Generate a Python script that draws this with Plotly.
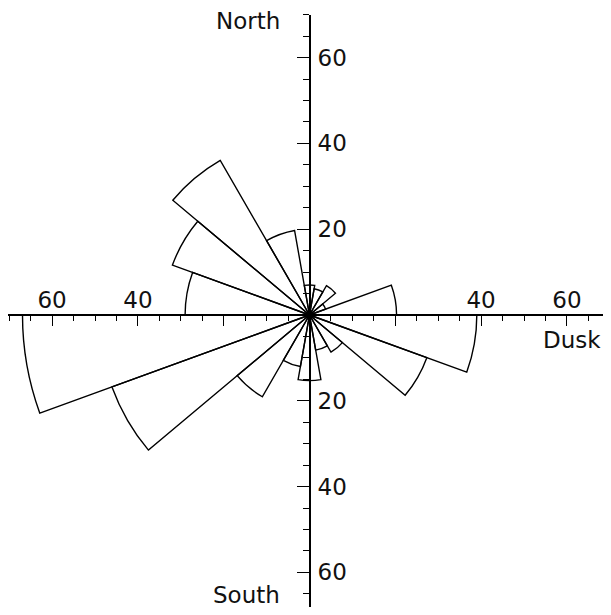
import plotly.graph_objects as go

# sector centres (deg, counter-clockwise from Dusk/east) and lengths
sector_deg = [10, 30, 50, 70, 90, 110, 130, 150, 170,
              190, 210, 230, 250, 270, 290, 310, 330, 350]
sector_len = [20.3, 4.0, 7.9, 6.2, 7.0, 20.0, 41.6, 34.0, 29.0,
              66.9, 49.0, 22.0, 12.2, 15.3, 8.3, 10.0, 29.1, 39.0]
sector_width = 20

axis_vals = [-60, -40, -20, 20, 40, 60]
x_text = ["60", "40", "", "", "40", "60"]
y_text = ["60", "40", "20", "20", "40", "60"]

FONT = dict(family="DejaVu Sans", size=23, color="#111")

# page geometry: figure sits 8px in from the window corner (body margin),
# kept small enough that the page never scrolls
W, H = 595, 599
CX, CY = 301.5, 307      # centre of the cross, px inside the figure
PPU = 4.29               # px per unit
TOP = 70                 # y axis ends at 70

x_range = [-CX / PPU, (W - CX) / PPU]
y_range = [-(H - CY) / PPU, TOP]
y_dom_top = (H - (CY - TOP * PPU)) / H
R_PX = min(CX, W - CX, CY, H - CY)

fig = go.Figure()

# empty traces so the cartesian cross gets drawn
fig.add_trace(go.Scatter(x=[None], y=[None], showlegend=False, hoverinfo="skip"))
fig.add_trace(go.Scatter(x=[None], y=[None], xaxis="x2", yaxis="y2",
                         showlegend=False, hoverinfo="skip"))

fig.add_trace(go.Barpolar(
    r=sector_len, theta=sector_deg, width=[sector_width] * len(sector_deg),
    marker=dict(color="rgba(0,0,0,0)", line=dict(color="black", width=1.4)),
    showlegend=False,
))

common = dict(showgrid=False, zeroline=False, anchor="free")
tick_style = dict(common, showline=True, linecolor="black", linewidth=1.5,
                  ticks="outside", tickwidth=1.3, tickcolor="black",
                  tickvals=axis_vals, showticklabels=False)
label_style = dict(common, showline=False, ticks="", tickvals=axis_vals,
                   tickfont=FONT)

xpos = (H - CY) / H   # where the horizontal axis crosses (paper y)
ypos = CX / W         # where the vertical axis crosses (paper x)

fig.update_layout(
    width=W, height=H,
    margin=dict(l=0, r=0, t=0, b=0),
    paper_bgcolor="white", plot_bgcolor="rgba(0,0,0,0)",
    showlegend=False,
    polar=dict(
        domain=dict(x=[(CX - R_PX) / W, (CX + R_PX) / W],
                    y=[(H - CY - R_PX) / H, (H - CY + R_PX) / H]),
        bgcolor="rgba(0,0,0,0)",
        bargap=0,
        radialaxis=dict(range=[0, R_PX / PPU], visible=False, showgrid=False),
        angularaxis=dict(rotation=0, direction="counterclockwise",
                         visible=False, showgrid=False),
    ),
    xaxis=dict(tick_style, range=x_range, domain=[0, 1], position=xpos,
               ticklen=10,
               minor=dict(dtick=5, tick0=0, ticks="outside", ticklen=5,
                          tickwidth=1.3, tickcolor="black", showgrid=False)),
    yaxis=dict(tick_style, range=y_range, domain=[0, y_dom_top], position=ypos,
               ticklen=12,
               minor=dict(dtick=5, tick0=0, ticks="outside", ticklen=6,
                          tickwidth=1.3, tickcolor="black", showgrid=False)),
    xaxis2=dict(label_style, range=x_range, domain=[0, 1], position=xpos,
                overlaying="x", side="top", ticktext=x_text,
                ticklabelstandoff=2),
    yaxis2=dict(label_style, range=y_range, domain=[0, y_dom_top],
                position=ypos, overlaying="y", side="right", ticktext=y_text,
                ticklabelstandoff=7),
)

fig.add_annotation(x=-6.3, y=68.5, xref="x", yref="y", text="North",
                   showarrow=False, xanchor="right", yanchor="middle", font=FONT)
fig.add_annotation(x=-6.3, y=-65.3, xref="x", yref="y", text="South",
                   showarrow=False, xanchor="right", yanchor="middle", font=FONT)
fig.add_annotation(x=68.3, y=-5.8, xref="x", yref="y", text="Dusk",
                   showarrow=False, xanchor="right", yanchor="middle", font=FONT)

fig.write_html("out.html")
